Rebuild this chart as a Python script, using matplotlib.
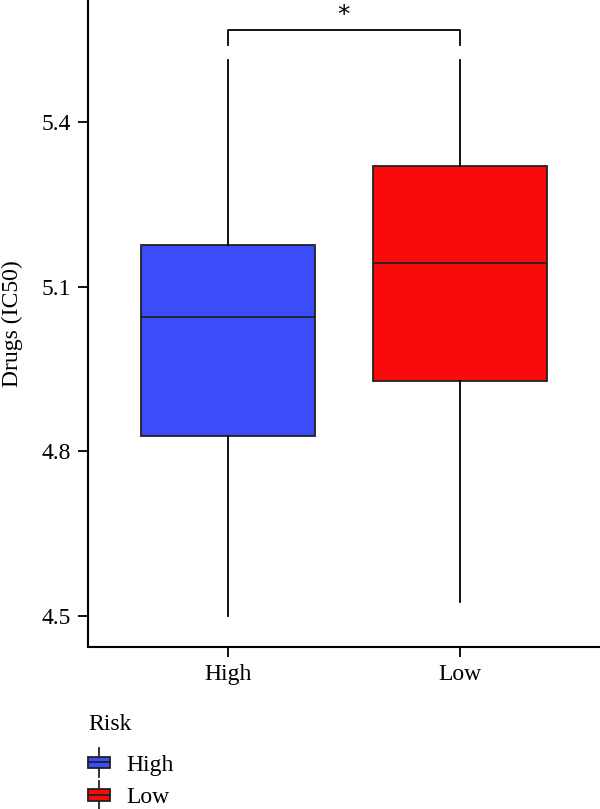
import matplotlib
matplotlib.use("Agg")
import matplotlib.pyplot as plt
from matplotlib.patches import Rectangle, Patch
from matplotlib.lines import Line2D
from matplotlib.legend_handler import HandlerBase

plt.rcParams['font.family'] = ['Liberation Serif', 'DejaVu Serif']

# box statistics
groups = ["High", "Low"]
colors = ["#3A4DF8", "#FA0A0A"]
q1 = [4.828, 4.928]
median = [5.045, 5.143]
q3 = [5.176, 5.320]
whis_lo = [4.500, 4.525]
whis_hi = [5.513, 5.513]
yticks = [4.5, 4.8, 5.1, 5.4]

# significance bracket
sig_y = 5.567
sig_drop = 0.027
sig_label = "*"

FS = 17


class BoxKey(HandlerBase):
    # mini boxplot glyph for the legend
    def create_artists(self, legend, orig_handle, xdescent, ydescent,
                       width, height, fontsize, trans):
        x0, y0 = -xdescent, -ydescent
        bh = height * 0.62
        by = y0 + (height - bh) / 2
        cx = x0 + width / 2
        face = orig_handle.get_facecolor()
        box = Rectangle((x0, by), width, bh, facecolor=face,
                        edgecolor="#222222", lw=1.3, transform=trans)
        med = Line2D([x0, x0 + width], [by + bh / 2] * 2, color="#222222",
                     lw=1.3, transform=trans)
        w1 = Line2D([cx, cx], [by + bh, y0 + height * 1.25], color="#222222",
                    lw=1.3, transform=trans)
        w2 = Line2D([cx, cx], [by, y0 - height * 0.25], color="#222222",
                    lw=1.3, transform=trans)
        return [w1, w2, box, med]


fig = plt.figure(figsize=(6.0, 8.09), dpi=100)
ax = fig.add_axes([88 / 600, 1 - 647 / 809, 512 / 600, 647 / 809])

stats = []
for i, g in enumerate(groups):
    stats.append(dict(label=g, med=median[i], q1=q1[i], q3=q3[i],
                      whislo=whis_lo[i], whishi=whis_hi[i], fliers=[]))

bp = ax.bxp(stats, positions=[1, 2], widths=0.75, patch_artist=True,
            showcaps=False, showfliers=False,
            boxprops=dict(edgecolor="#222222", linewidth=1.3),
            medianprops=dict(color="#222222", linewidth=1.3),
            whiskerprops=dict(color="black", linewidth=1.3))
for patch, c in zip(bp['boxes'], colors):
    patch.set_facecolor(c)

# bracket
ax.plot([1, 1, 2, 2], [sig_y - sig_drop, sig_y, sig_y, sig_y - sig_drop],
        color="black", lw=1.3)
ax.text(1.5, sig_y + 0.006, sig_label, ha="center", va="bottom",
        fontsize=18, family="DejaVu Sans")

ax.set_xlim(0.397, 2.603)
ax.set_ylim(4.4435, 5.622)
ax.set_yticks(yticks)
ax.set_yticklabels([f"{t:.1f}" for t in yticks])
ax.set_xticks([1, 2])
ax.set_xticklabels(groups)
ax.tick_params(axis="both", labelsize=FS, length=7, width=1.3, color="black",
               labelcolor="black", pad=5)
ax.set_ylabel("Drugs (IC50)", fontsize=FS)
ax.yaxis.set_label_coords(-0.127, 0.5)

for s in ["top", "right"]:
    ax.spines[s].set_visible(False)
for s in ["left", "bottom"]:
    ax.spines[s].set_linewidth(1.5)

fig.text(88 / 600, 1 - 730 / 809, "Risk", fontsize=FS, ha="left",
         va="baseline")
handles = [Patch(facecolor=c, label=g) for g, c in zip(groups, colors)]
leg = fig.legend(handles=handles, handler_map={Patch: BoxKey()},
                 loc="upper left", bbox_to_anchor=(88 / 600, 1 - 753 / 809),
                 frameon=False, fontsize=FS,
                 handlelength=0.93, handleheight=0.85, handletextpad=0.7,
                 labelspacing=0.42, borderpad=0, borderaxespad=0)

fig.savefig("out.png", dpi=100)
